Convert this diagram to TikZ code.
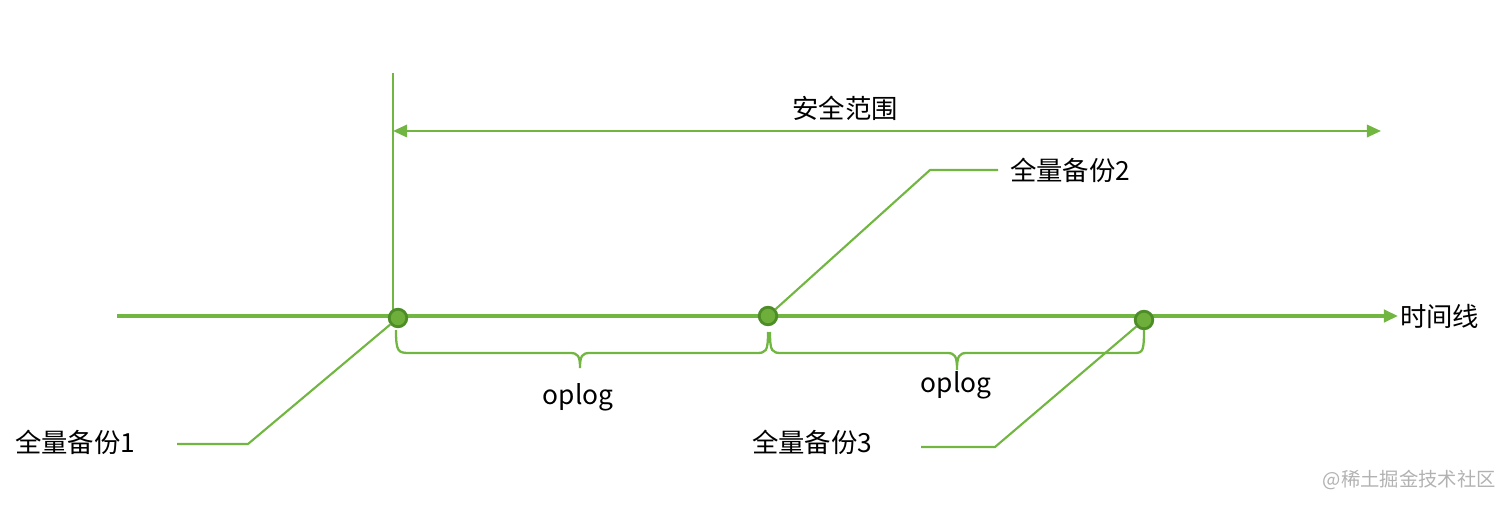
\documentclass[tikz,border=0pt]{standalone}
\usepackage{fontspec}
\setmainfont{Noto Sans CJK SC}
\usetikzlibrary{arrows.meta}
\definecolor{gline}{RGB}{112,182,64}
\definecolor{gdot}{RGB}{78,140,40}
\definecolor{gdotin}{RGB}{110,175,60}
\tikzset{
  gl/.style={draw=gline, line width=1.4pt},
  garrow/.style={gl, -{Triangle[length=8pt,width=7pt]}},
  dotnode/.style={circle, draw=gdot, line width=1.6pt, fill=gdotin, inner sep=0pt, minimum size=10pt},
  lbl/.style={font=\fontsize{15}{18}\selectfont, inner sep=1pt},
  wm/.style={font=\fontsize{11}{13}\selectfont, text=black!30, inner sep=0pt}
}
\begin{document}
\begin{tikzpicture}[x=0.02cm,y=-0.02cm]
\useasboundingbox (0,0) rectangle (1512,506);
% vertical line
\coordinate (vtop) at (393,73);
\coordinate (vbot) at (393,316);
\draw[gl] (vtop) -- (vbot);
% safe range arrow
\coordinate (sl) at (393,131);
\coordinate (sr) at (1381,131);
\draw[gl, {Triangle[length=8pt,width=7pt]}-{Triangle[length=8pt,width=7pt]}] (sl) -- (sr);
\node[lbl] (safe) at (845,108) {安全范围};
% timeline
\coordinate (tl) at (117,316);
\node[lbl, anchor=west] (time) at (1398,316) {时间线};
\draw[garrow, line width=1.8pt] (tl) -- (time.west);
% dots
\node[dotnode] (d1) at (398,318) {};
\node[dotnode] (d2) at (768,316) {};
\node[dotnode] (d3) at (1144,320) {};
% braces
\draw[gl, line width=1.3pt] (396,330) .. controls (396,352) and (398,353) .. (410,353) -- (570,353)
  .. controls (578,353) and (580,356) .. (580,368)
  .. controls (580,356) and (582,353) .. (590,353) -- (756,353)
  .. controls (766,353) and (768,352) .. (768,332);
\draw[gl, line width=1.3pt] (770,332) .. controls (770,352) and (772,353) .. (782,353) -- (947,353)
  .. controls (955,353) and (957,356) .. (957,370)
  .. controls (957,356) and (959,353) .. (967,353) -- (1135,353)
  .. controls (1143,353) and (1144,350) .. (1144,330);
\node[lbl] (op1) at (578,397) {oplog};
\node[lbl] (op2) at (956,385) {oplog};
% labels with leaders
\node[lbl, anchor=west] (b1) at (13,442) {全量备份1};
\coordinate (b1a) at (177,444);
\coordinate (b1b) at (248,444);
\draw[gl, line width=1.2pt] (b1a) -- (b1b) -- (d1);
\node[lbl, anchor=west] (b2) at (1008,170) {全量备份2};
\coordinate (b2a) at (998,170);
\coordinate (b2b) at (930,170);
\draw[gl, line width=1.2pt] (b2a) -- (b2b) -- (d2);
\node[lbl, anchor=west] (b3) at (750,442) {全量备份3};
\coordinate (b3a) at (921,447);
\coordinate (b3b) at (995,447);
\draw[gl, line width=1.2pt] (b3a) -- (b3b) -- (d3);
% watermark
\node[wm, anchor=east] (wmk) at (1496,480) {@稀土掘金技术社区};
\end{tikzpicture}
\end{document}
